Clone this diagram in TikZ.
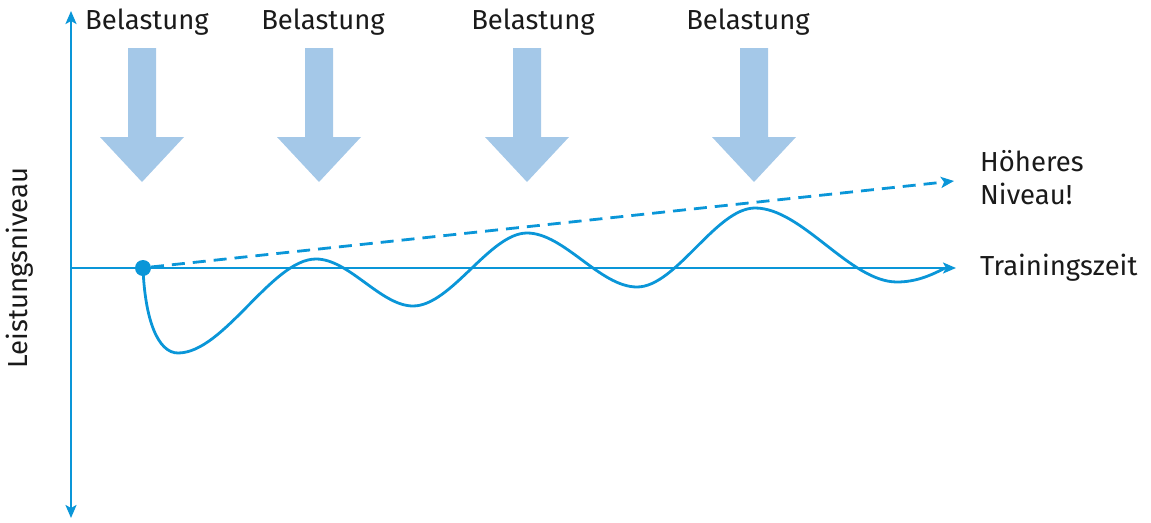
\documentclass[tikz,border=0pt]{standalone}
\usepackage{fontspec}
\setmainfont{Fira Sans}
\usetikzlibrary{arrows.meta}
\definecolor{lineblue}{HTML}{0A96D8}
\definecolor{loadblue}{HTML}{A4C8E8}
\definecolor{textdark}{HTML}{1A1A1A}
\tikzset{
  axisline/.style={draw=lineblue, line width=2.3pt, -{Stealth[length=13pt,width=11pt,inset=3pt]}},
  curveline/.style={draw=lineblue, line width=2.8pt},
  trendline/.style={draw=lineblue, line width=2.8pt, dash pattern=on 13pt off 8pt,
    -{Stealth[length=13pt,width=11pt,inset=3pt]}},
  lbl/.style={font=\fontsize{27.5}{33}\selectfont, text=textdark, inner sep=0pt},
  pics/loadarrow/.style={code={
    \fill[loadblue] (-14,48) -- (14,48) -- (14,137) -- (42,137) -- (0,182)
      -- (-42,137) -- (-14,137) -- cycle;
  }}
}
\begin{document}
\begin{tikzpicture}[x=1pt, y=-1pt]
  \useasboundingbox (0,0) rectangle (1151,522);

  % load arrows and their labels
  \pic at (142,0) {loadarrow};
  \pic at (319,0) {loadarrow};
  \pic at (527,0) {loadarrow};
  \pic at (754,0) {loadarrow};
  \node[lbl] (load1) at (147,22) {Belastung};
  \node[lbl] (load2) at (323,22) {Belastung};
  \node[lbl] (load3) at (533,22) {Belastung};
  \node[lbl] (load4) at (748,22) {Belastung};

  % axes
  \coordinate (origin) at (71,268);
  \coordinate (ytop) at (71,11);
  \coordinate (ybot) at (71,518);
  \coordinate (xend) at (956,268);
  \draw[axisline] (origin) -- (ytop);
  \draw[axisline] (origin) -- (ybot);
  \draw[axisline] (origin) -- (xend);

  % start point
  \node[circle, fill=lineblue, inner sep=0pt, minimum size=16pt] (start) at (143,268) {};

  % rising trend
  \coordinate (trendend) at (954,181);
  \draw[trendline] (start.center) ++(8,-1) -- (trendend);

  % performance curve
  \draw[curveline] (start.center)
    .. controls (145,320) and (158,353) .. (178,353)
    .. controls (224,353) and (272,259) .. (316,259)
    .. controls (349,259) and (381,306) .. (413,306)
    .. controls (451,306) and (490,233) .. (527,233)
    .. controls (564,233) and (600,287) .. (637,287)
    .. controls (676,287) and (716,208) .. (755,208)
    .. controls (802,208) and (850,282) .. (897,282)
    .. controls (915,282) and (930,276) .. (945,268);

  % axis and trend labels
  \node[lbl, rotate=90] (ylabel) at (20,268) {Leistungsniveau};
  \node[lbl, anchor=west, align=left] (higher) at (980,178) {Höheres\\Niveau!};
  \node[lbl, anchor=west] (xlabel) at (980,268) {Trainingszeit};
\end{tikzpicture}
\end{document}
